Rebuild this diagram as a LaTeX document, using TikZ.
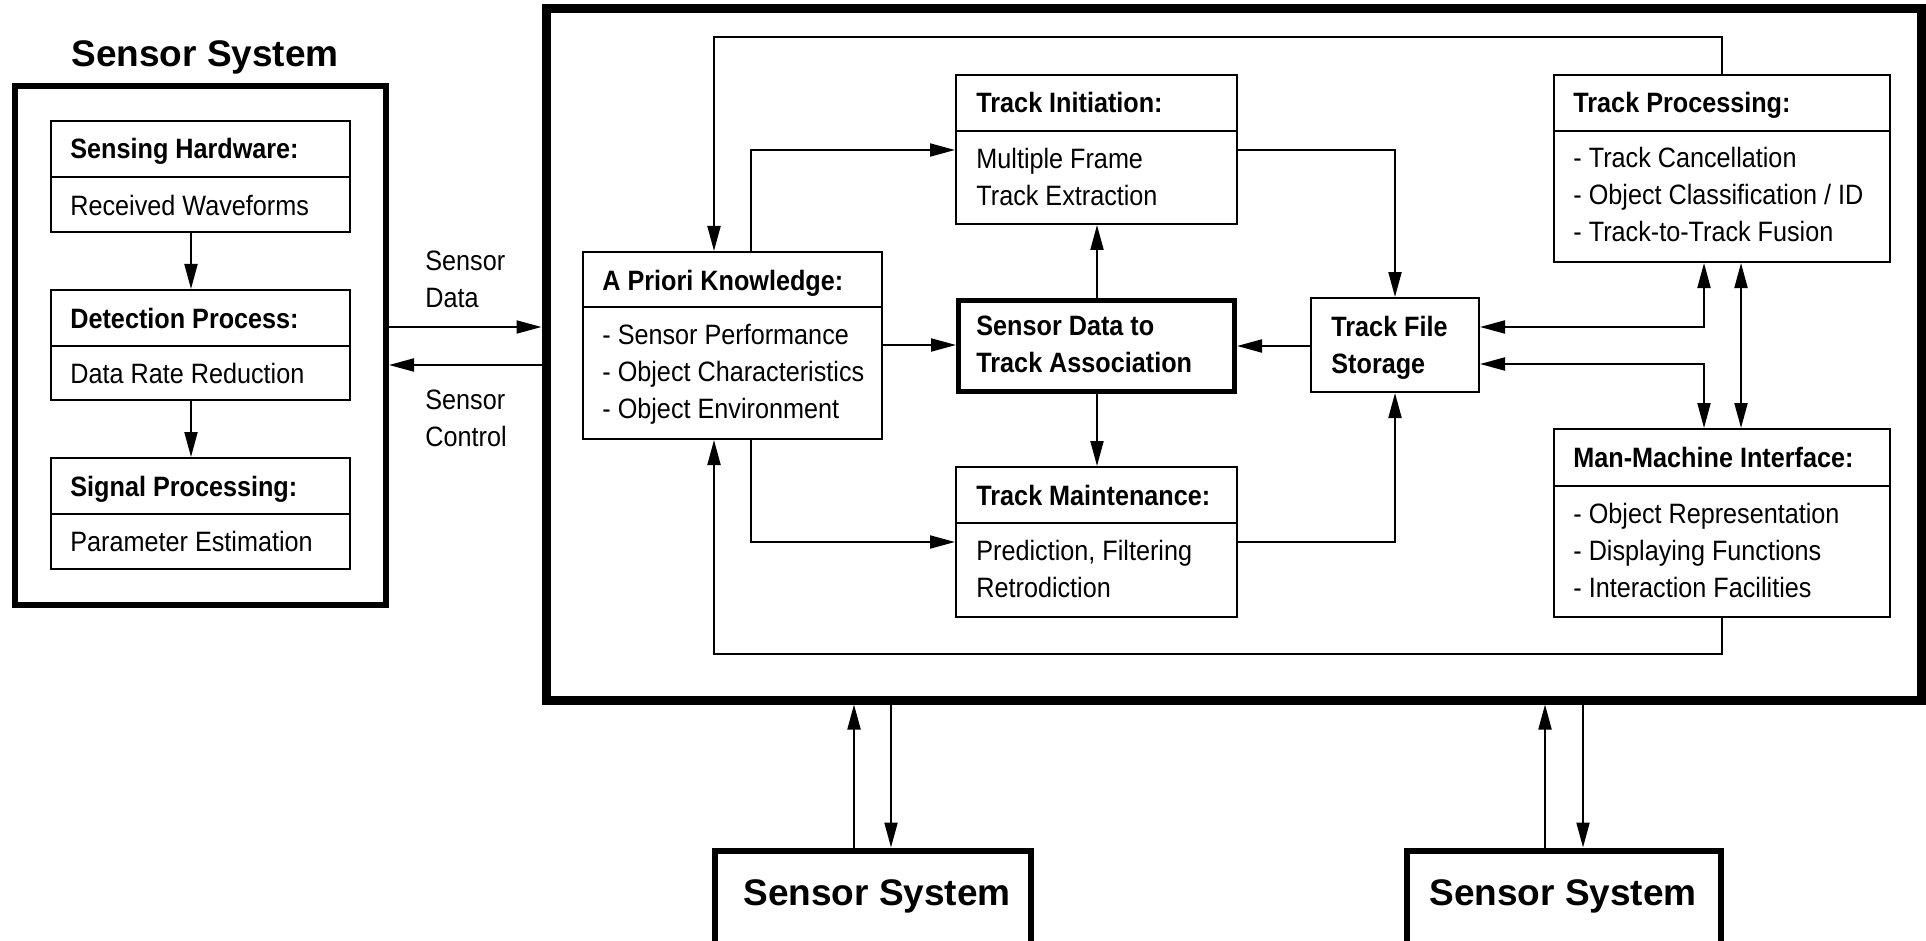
\documentclass[tikz,border=0pt]{standalone}
\usepackage{fontspec}
\setmainfont{Liberation Sans}
\newfontfamily\narrowsans[FakeStretch=0.9]{Liberation Sans}
\usetikzlibrary{arrows.meta,fit}
\tikzset{
  box/.style={draw, line width=1pt, inner sep=0pt},
  heavybox/.style={draw, line width=#1, inner sep=0pt},
  lbl/.style={inner sep=0pt, align=left, font=\narrowsans\fontsize{14pt}{18.5pt}\selectfont},
  body/.style={lbl, anchor=west},
  head/.style={inner sep=0pt, anchor=base west, font=\narrowsans\bfseries\fontsize{14pt}{18.5pt}\selectfont},
  plainline/.style={inner sep=0pt, anchor=base west, font=\narrowsans\fontsize{14pt}{18.5pt}\selectfont},
  boldbody/.style={inner sep=0pt, anchor=west, align=left, font=\narrowsans\bfseries\fontsize{14pt}{18.5pt}\selectfont},
  big/.style={inner sep=0pt, anchor=base, font=\bfseries\fontsize{18.5pt}{22pt}\selectfont},
  divider/.style={line width=1pt},
  link/.style={line width=1pt, -{Triangle[length=12.5pt,width=6.5pt]}},
  link2/.style={line width=1pt, {Triangle[length=12.5pt,width=6.5pt]}-{Triangle[length=12.5pt,width=6.5pt]}}
}
\begin{document}
\begin{tikzpicture}[x=0.5pt, y=-0.5pt]
\useasboundingbox (0,0) rectangle (1926,941);

% ---------------- sensor system (left) ----------------
\node[big] (systitle) at (205,67) {Sensor System};
\node[heavybox=3pt, fit={(15,86) (386,605)}] (sys) {};

\node[box, fit={(51,121) (350,232)}] (sh) {};
\draw[divider] (sh.west |- 0,177) -- (sh.east |- 0,177);
\node[head] (shh) at (70,159) {Sensing Hardware:};
\node[plainline] (shb) at (70,216) {Received Waveforms};

\node[box, fit={(51,290) (350,400)}] (dp) {};
\draw[divider] (dp.west |- 0,346) -- (dp.east |- 0,346);
\node[head] (dph) at (70,328) {Detection Process:};
\node[plainline] (dpb) at (70,383) {Data Rate Reduction};

\node[box, fit={(51,458) (350,569)}] (sp) {};
\draw[divider] (sp.west |- 0,514) -- (sp.east |- 0,514);
\node[head] (sph) at (70,496) {Signal Processing:};
\node[plainline] (spb) at (70,551) {Parameter Estimation};

\draw[link] (sh.south -| 191,0) -- (dp.north -| 191,0);
\draw[link] (dp.south -| 191,0) -- (sp.north -| 191,0);

% ---------------- tracking system frame ----------------
\node[heavybox=4.5pt, fit={(546,9) (1921.5,700)}] (main) {};

\draw[link] (sys.east |- 0,327) -- (main.west |- 0,327);
\draw[link] (main.west |- 0,365) -- (sys.east |- 0,365);
\node[body] (sdlbl) at (425,279.5) {Sensor\\Data};
\node[body] (sclbl) at (425,418) {Sensor\\Control};

% a priori knowledge
\node[box, fit={(583,252) (882,439)}] (ap) {};
\draw[divider] (ap.west |- 0,307) -- (ap.east |- 0,307);
\node[head] (aph) at (602,290) {A Priori Knowledge:};
\node[body] (apb) at (602,374) {- Sensor Performance\\- Object Characteristics\\- Object Environment};

% track initiation
\node[box, fit={(956,75) (1237,224)}] (ti) {};
\draw[divider] (ti.west |- 0,131) -- (ti.east |- 0,131);
\node[head] (tih) at (976,113) {Track Initiation:};
\node[body] (tib) at (976,176.5) {Multiple Frame\\Track Extraction};

% association
\node[heavybox=2.5pt, fit={(958.5,300.5) (1234.5,391.5)}] (sdta) {};
\node[boldbody] (sdtat) at (976,344) {Sensor Data to\\Track Association};

% track maintenance
\node[box, fit={(956,467) (1237,617)}] (tm) {};
\draw[divider] (tm.west |- 0,523) -- (tm.east |- 0,523);
\node[head] (tmh) at (976,505) {Track Maintenance:};
\node[body] (tmb) at (976,568.5) {Prediction, Filtering\\Retrodiction};

% track file storage
\node[box, fit={(1311,298) (1479,392)}] (tfs) {};
\node[boldbody] (tfst) at (1331,348) {Track File\\Storage};

% track processing
\node[box, fit={(1554,75) (1890,262)}] (tp) {};
\draw[divider] (tp.west |- 0,131) -- (tp.east |- 0,131);
\node[head] (tph) at (1573,113) {Track Processing:};
\node[body] (tpb) at (1573,194.5) {- Track Cancellation\\- Object Classification / ID\\- Track-to-Track Fusion};

% man-machine interface
\node[box, fit={(1554,429) (1890,617)}] (mmi) {};
\draw[divider] (mmi.west |- 0,486) -- (mmi.east |- 0,486);
\node[head] (mmih) at (1573,467) {Man-Machine Interface:};
\node[body] (mmib) at (1573,550) {- Object Representation\\- Displaying Functions\\- Interaction Facilities};

% connections inside the frame
\draw[link] (tp.north -| 1722,0) |- (714,37) -- (ap.north -| 714,0);
\draw[link] (mmi.south -| 1722,0) |- (714,654) -- (ap.south -| 714,0);
\draw[link] (ap.north -| 751,0) |- (ti.west |- 0,150);
\draw[link] (ti.east |- 0,150) -| (tfs.north -| 1395,0);
\draw[link] (ap.east |- 0,345) -- (sdta.west |- 0,345);
\draw[link] (tfs.west |- 0,346) -- (sdta.east |- 0,346);
\draw[link] (sdta.north -| 1097,0) -- (ti.south -| 1097,0);
\draw[link] (sdta.south -| 1097,0) -- (tm.north -| 1097,0);
\draw[link] (ap.south -| 751,0) |- (tm.west |- 0,542);
\draw[link] (tm.east |- 0,542) -| (tfs.south -| 1395,0);
\draw[link2] (tfs.east |- 0,327) -| (tp.south -| 1704,0);
\draw[link2] (tfs.east |- 0,364) -| (mmi.north -| 1704,0);
\draw[link2] (tp.south -| 1741,0) -- (mmi.north -| 1741,0);

% ---------------- further sensor systems ----------------
\node[heavybox=3pt, fit={(715,850.5) (1031,990)}] (s1) {};
\node[big] (s1t) at (877,905) {Sensor System};
\node[heavybox=3pt, fit={(1407,850.5) (1721,990)}] (s2) {};
\node[big] (s2t) at (1563,905) {Sensor System};

\draw[link] (s1.north -| 854,0) -- (main.south -| 854,0);
\draw[link] (main.south -| 891,0) -- (s1.north -| 891,0);
\draw[link] (s2.north -| 1545,0) -- (main.south -| 1545,0);
\draw[link] (main.south -| 1583,0) -- (s2.north -| 1583,0);
\end{tikzpicture}
\end{document}
